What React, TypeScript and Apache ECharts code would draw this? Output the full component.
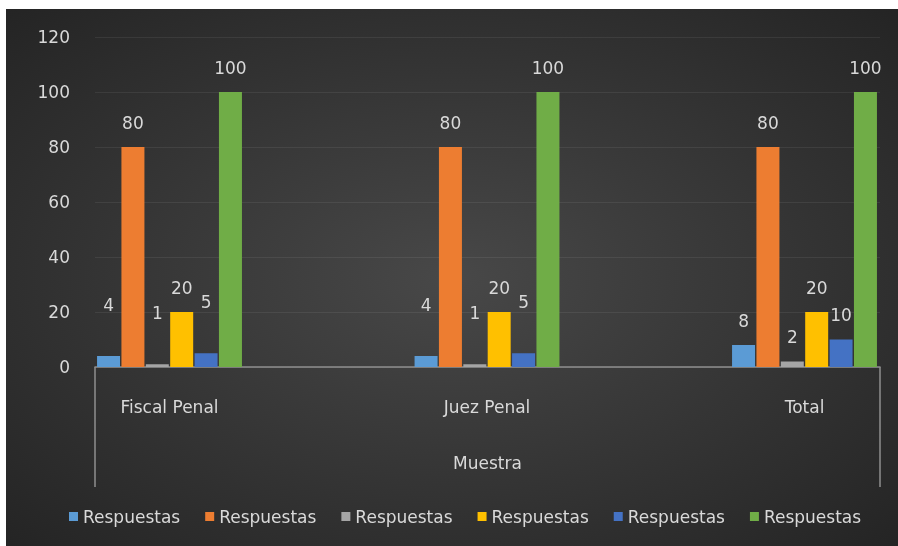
import React, { useEffect, useRef } from "react";
import * as echarts from "echarts";

const categories = ["Fiscal Penal", "Juez Penal", "Total"];
const axisTitle = "Muestra";
const seriesNames = ["Respuestas", "Respuestas", "Respuestas", "Respuestas", "Respuestas", "Respuestas"];
const seriesA = [4, 4, 8];
const seriesB = [80, 80, 80];
const seriesC = [1, 1, 2];
const seriesD = [20, 20, 20];
const seriesE = [5, 5, 10];
const seriesF = [100, 100, 100];
const yMin = 0;
const yMax = 120;
const yStep = 20;

const colors = ["#5B9BD5", "#ED7D31", "#A5A5A5", "#FFC000", "#4472C4", "#70AD47"];
// labels Excel lifted by hand in the original (series index, category index)
const raisedLabelSeries = [0, 2, 4];
const raisedLabelCategories = [0, 1];

const FONT = "DejaVu Sans";
const TEXT = "#d9d9d9";

export default function App() {
  const ref = useRef<HTMLDivElement>(null);
  useEffect(() => {
    if (!ref.current) return;
    const chart = echarts.init(ref.current, undefined, { renderer: "svg" });
    const all = [seriesA, seriesB, seriesC, seriesD, seriesE, seriesF];
    const series = all.map((vals, si) => ({
      name: `${seriesNames[si]} ${si + 1}`,
      type: "bar",
      xAxisIndex: 1,
      yAxisIndex: 1,
      barWidth: 23,
      barGap: "6%",
      clip: false,
      itemStyle: { color: colors[si] },
      label: {
        show: true,
        position: "top",
        distance: 16,
        color: TEXT,
        fontFamily: FONT,
        fontSize: 17,
      },
      data: vals.map((v, ci) => {
        const raised = raisedLabelSeries.includes(si) && raisedLabelCategories.includes(ci);
        return raised ? { value: v, label: { offset: [0, -27] } } : v;
      }),
    }));
    chart.setOption({
      animation: false,
      backgroundColor: new echarts.graphic.RadialGradient(0.5, 0.5, 0.75, [
        { offset: 0, color: "#484848" },
        { offset: 1, color: "#222222" },
      ]),
      legend: {
        left: 58,
        top: 494,
        itemWidth: 9,
        itemHeight: 9,
        itemGap: 25,
        icon: "rect",
        formatter: () => "Respuestas",
        textStyle: { color: TEXT, fontFamily: FONT, fontSize: 17 },
      },
      grid: [
        { left: 89, right: 18, top: 28, bottom: 179, containLabel: false },
        { left: 163.5, right: 93.5, top: 28, bottom: 179, containLabel: false },
      ],
      xAxis: [
        {
          type: "category",
          gridIndex: 0,
          data: [axisTitle],
          boundaryGap: true,
          axisLine: { show: true, lineStyle: { color: "#8f8f8f", width: 1.5 } },
          axisTick: { show: true, length: 120, alignWithLabel: false, lineStyle: { color: "#8f8f8f", width: 1.5 } },
          axisLabel: { margin: 87, color: TEXT, fontFamily: FONT, fontSize: 17 },
          splitLine: { show: false },
        },
        {
          type: "category",
          gridIndex: 1,
          data: categories,
          boundaryGap: false,
          axisLine: { show: false },
          axisTick: { show: false },
          axisLabel: { interval: 0, margin: 31, color: TEXT, fontFamily: FONT, fontSize: 17 },
          splitLine: { show: false },
        },
      ],
      yAxis: [
        {
          type: "value",
          gridIndex: 0,
          min: yMin,
          max: yMax,
          interval: yStep,
          axisLine: { show: false },
          axisTick: { show: false },
          axisLabel: { margin: 25, color: TEXT, fontFamily: FONT, fontSize: 17 },
          splitLine: { show: true, lineStyle: { color: "rgba(255,255,255,0.07)", width: 1 } },
        },
        {
          type: "value",
          gridIndex: 1,
          min: yMin,
          max: yMax,
          interval: yStep,
          show: false,
          splitLine: { show: false },
        },
      ],
      series,
    });
    return () => chart.dispose();
  }, []);
  return (
    <div
      ref={ref}
      style={{ position: "fixed", left: 6, top: 9, width: 892, height: 537 }}
    />
  );
}
